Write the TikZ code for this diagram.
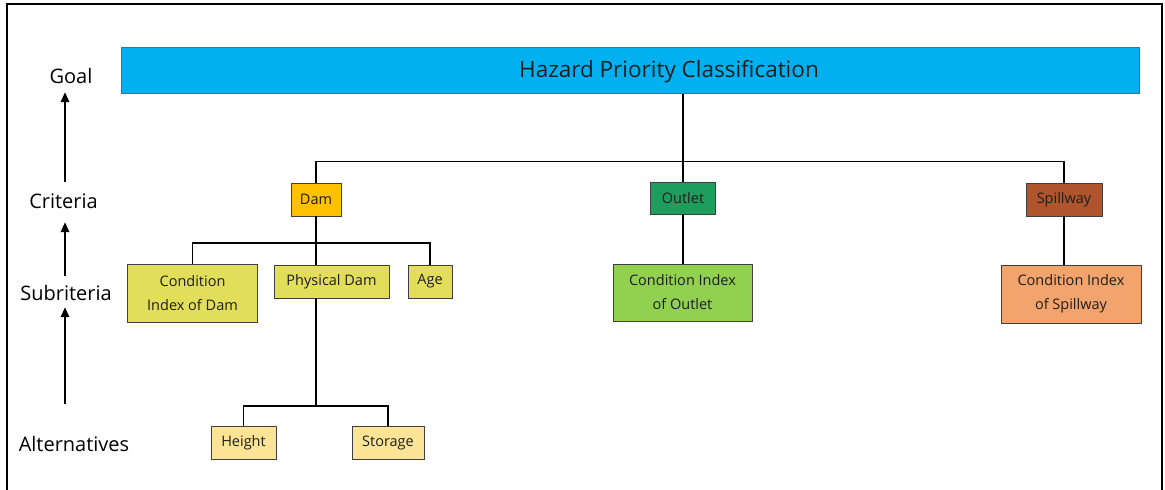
\documentclass[tikz,border=0pt]{standalone}
\usepackage{fontspec}
\setmainfont{Open Sans}
\usetikzlibrary{arrows.meta}
\definecolor{goalblue}{RGB}{0,176,240}
\definecolor{goaledge}{RGB}{65,113,156}
\definecolor{damor}{RGB}{255,192,0}
\definecolor{outgreen}{RGB}{30,158,92}
\definecolor{spbrown}{RGB}{176,84,46}
\definecolor{subyel}{RGB}{226,222,90}
\definecolor{condgreen}{RGB}{146,208,80}
\definecolor{condor}{RGB}{243,164,108}
\definecolor{altyel}{RGB}{252,228,150}
\definecolor{edgegray}{RGB}{64,64,64}
\definecolor{txt}{RGB}{30,30,30}
\tikzset{
  box/.style={draw=edgegray, line width=0.9pt, inner sep=0pt, text=txt,
    font=\fontsize{14.5}{24}\selectfont, align=center},
  side/.style={inner sep=0pt, text=black, font=\fontsize{20}{22}\selectfont},
  conn/.style={line width=1.6pt, black},
  uparrow/.style={line width=2.6pt, -{Triangle[length=10pt,width=8pt]}}
}
\begin{document}
\begin{tikzpicture}[x=1pt,y=-1pt]
\useasboundingbox (0,0) rectangle (1165,490);
\fill[white] (0,0) rectangle (1165,490);
% frame
\draw[line width=1.8pt] (7,492) -- (7,4) -- (1162,4) -- (1162,492);

% goal bar
\node[draw=goaledge, line width=1pt, fill=goalblue, minimum width=1018pt, minimum height=46pt, inner sep=0pt] (goal) at (630,70) {};
\node[inner sep=0pt, text=txt, font=\fontsize{22.5}{24}\selectfont] (title) at (669,72) {Hazard Priority Classification};

% criteria
\node[box, fill=damor, minimum width=50pt, minimum height=33pt] (dam) at (316,199.5) {Dam};
\node[box, fill=outgreen, minimum width=65pt, minimum height=32pt] (outlet) at (683,198) {Outlet};
\node[box, fill=spbrown, minimum width=76pt, minimum height=33pt] (spill) at (1064,199.5) {Spillway};

% subcriteria
\node[box, fill=subyel, minimum width=130pt, minimum height=58pt] (conddam) at (192.5,293) {Condition\\Index of Dam};
\node[box, fill=subyel, minimum width=115pt, minimum height=33pt] (phys) at (331.5,281.5) {Physical Dam};
\node[box, fill=subyel, minimum width=44pt, minimum height=33pt] (age) at (430,281.5) {Age};
\node[box, fill=condgreen, minimum width=139pt, minimum height=57pt] (condout) at (682.5,292.5) {Condition Index\\of Outlet};
\node[box, fill=condor, minimum width=140pt, minimum height=58pt] (condsp) at (1071,294) {Condition Index\\of Spillway};

% alternatives
\node[box, fill=altyel, minimum width=65pt, minimum height=33pt] (height) at (243.5,442.5) {Height};
\node[box, fill=altyel, minimum width=72pt, minimum height=33pt] (storage) at (388,442.5) {Storage};

% connectors
\coordinate (b1) at (0,161.5);
\coordinate (b2) at (0,243);
\coordinate (b3) at (0,406);
\draw[conn] (goal.south -| outlet.north) -- (outlet.north);
\draw[conn] (dam.north) -- (dam.north |- b1) -- (spill.north |- b1) -- (spill.north);
\draw[conn] (dam.south) -- (phys.north -| dam.south);
\draw[conn] (conddam.north) -- (conddam.north |- b2) -- (age.north |- b2) -- (age.north);
\draw[conn] (phys.south -| dam.south) -- (dam.south |- b3);
\draw[conn] (height.north) -- (height.north |- b3) -- (storage.north |- b3) -- (storage.north);
\draw[conn] (outlet.south) -- (condout.north -| outlet.south);
\draw[conn] (spill.south) -- (condsp.north -| spill.south);

% side labels
\node[side] (lgoal) at (71,76) {Goal};
\node[side] (lcrit) at (63.5,201) {Criteria};
\node[side] (lsub) at (66,293) {Subriteria};
\node[side] (lalt) at (74,444) {Alternatives};
\coordinate (a1s) at (65,182);
\coordinate (a1e) at (65,92);
\coordinate (a2s) at (65,276);
\coordinate (a2e) at (65,222);
\coordinate (a3s) at (65,404);
\coordinate (a3e) at (65,307);
\draw[uparrow] (a1s) -- (a1e);
\draw[uparrow] (a2s) -- (a2e);
\draw[uparrow] (a3s) -- (a3e);
\end{tikzpicture}
\end{document}
